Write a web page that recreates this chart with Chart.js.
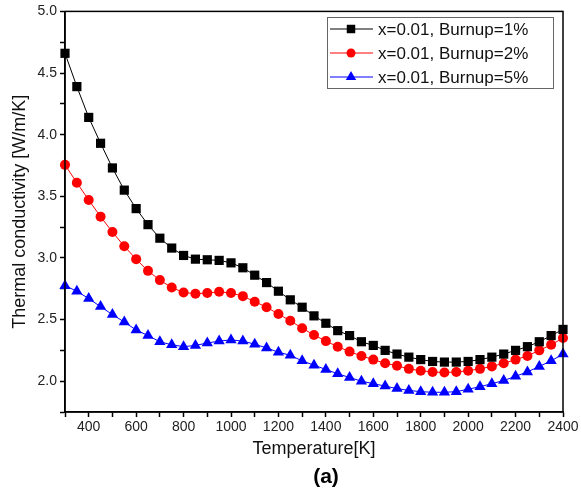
<!DOCTYPE html>
<html>
<head>
<meta charset="utf-8">
<script src="https://cdn.jsdelivr.net/npm/chart.js@4.4.1/dist/chart.umd.min.js"></script>
<style>
  html, body { margin: 0; padding: 0; background: #fff; }
  #wrap { width: 581px; height: 492px; }
</style>
</head>
<body>
<div id="wrap"><canvas id="chart" width="581" height="492"></canvas></div>
<script>
// temperatures in K, one point every 50 K
const temps = [300, 350, 400, 450, 500, 550, 600, 650, 700, 750, 800, 850, 900, 950, 1000,
  1050, 1100, 1150, 1200, 1250, 1300, 1350, 1400, 1450, 1500, 1550, 1600, 1650, 1700, 1750,
  1800, 1850, 1900, 1950, 2000, 2050, 2100, 2150, 2200, 2250, 2300, 2350, 2400];

const burnup1 = [4.66, 4.39, 4.14, 3.93, 3.73, 3.55, 3.40, 3.27, 3.16, 3.08, 3.02, 2.99, 2.985, 2.98, 2.96,
  2.92, 2.86, 2.80, 2.73, 2.66, 2.60, 2.53, 2.47, 2.41, 2.37, 2.32, 2.29, 2.25, 2.22, 2.195,
  2.175, 2.16, 2.155, 2.155, 2.16, 2.175, 2.195, 2.22, 2.25, 2.28, 2.32, 2.37, 2.42];

const burnup2 = [3.755, 3.61, 3.47, 3.335, 3.21, 3.095, 2.99, 2.895, 2.82, 2.76, 2.72, 2.71, 2.715, 2.725, 2.715,
  2.69, 2.645, 2.60, 2.545, 2.49, 2.43, 2.375, 2.325, 2.28, 2.24, 2.205, 2.175, 2.145, 2.125, 2.10,
  2.085, 2.075, 2.07, 2.075, 2.085, 2.10, 2.12, 2.145, 2.175, 2.205, 2.25, 2.295, 2.35];

const burnup5 = [2.775, 2.73, 2.67, 2.605, 2.54, 2.48, 2.415, 2.37, 2.32, 2.295, 2.28, 2.29, 2.31, 2.325, 2.335,
  2.325, 2.30, 2.27, 2.235, 2.21, 2.165, 2.13, 2.095, 2.06, 2.03, 2.0, 1.98, 1.96, 1.94, 1.925,
  1.915, 1.91, 1.91, 1.915, 1.935, 1.955, 1.98, 2.005, 2.04, 2.075, 2.12, 2.165, 2.22];

const seriesLabels = ["x=0.01, Burnup=1%", "x=0.01, Burnup=2%", "x=0.01, Burnup=5%"];
const FONT = "'Liberation Sans', Arial, sans-serif";

const toPoints = (vals) => temps.map((t, i) => ({ x: t, y: vals[i] }));

// legend box drawn inside the plot, plus the closed frame round the plot
const frameAndLegend = {
  id: "frameAndLegend",
  afterDraw(chart) {
    const { ctx, chartArea } = chart;
    ctx.save();
    ctx.strokeStyle = "#000";
    ctx.lineWidth = 1.5;
    ctx.strokeRect(chartArea.left, chartArea.top, chartArea.right - chartArea.left, chartArea.bottom - chartArea.top);

    ctx.strokeStyle = "#666";
    ctx.lineWidth = 1;
    ctx.strokeRect(327.5, 17.5, 226, 71);

    chart.data.datasets.forEach((ds, i) => {
      const y = 29 + i * 24;
      ctx.strokeStyle = ds.borderColor;
      ctx.lineWidth = 1;
      ctx.beginPath();
      ctx.moveTo(330, y);
      ctx.lineTo(373, y);
      ctx.stroke();
      ctx.fillStyle = ds.pointBackgroundColor;
      Chart.helpers.drawPoint(ctx, { pointStyle: ds.pointStyle, radius: ds.pointRadius - 0.5, rotation: 0, borderWidth: 0 }, 351, y);
      ctx.fillStyle = "#111";
      ctx.font = "17px " + FONT;
      ctx.textBaseline = "middle";
      ctx.fillText(ds.label, 378, y + 1);
    });

    ctx.fillStyle = "#000";
    ctx.font = "bold 21px " + FONT;
    ctx.textAlign = "center";
    ctx.textBaseline = "middle";
    ctx.fillText("(a)", 326, 477);
    ctx.restore();
  },
};

new Chart(document.getElementById("chart"), {
  type: "line",
  data: {
    datasets: [
      {
        label: seriesLabels[0],
        data: toPoints(burnup1),
        borderColor: "#000000",
        pointBackgroundColor: "#000000",
        pointBorderColor: "#000000",
        pointStyle: "rect",
        pointRadius: 6.5,
      },
      {
        label: seriesLabels[1],
        data: toPoints(burnup2),
        borderColor: "#ff0000",
        pointBackgroundColor: "#ff0000",
        pointBorderColor: "#ff0000",
        pointStyle: "circle",
        pointRadius: 5,
      },
      {
        label: seriesLabels[2],
        data: toPoints(burnup5),
        borderColor: "#0000ff",
        pointBackgroundColor: "#0000ff",
        pointBorderColor: "#0000ff",
        pointStyle: "triangle",
        pointRadius: 6.5,
      },
    ],
  },
  options: {
    responsive: false,
    animation: false,
    clip: false,
    elements: {
      line: { borderWidth: 1, tension: 0 },
      point: { borderWidth: 0, hoverRadius: 6 },
    },
    layout: { padding: { top: 11, right: 18, left: 9, bottom: 32 } },
    plugins: {
      legend: { display: false },
      tooltip: { enabled: false },
    },
    scales: {
      x: {
        type: "linear",
        min: 300,
        max: 2400,
        afterFit: (s) => { s.height = 48; },
        border: { color: "#000", width: 1.5 },
        grid: { drawOnChartArea: false, tickLength: 5, color: "#000", tickWidth: 1.5 },
        ticks: {
          stepSize: 100,
          autoSkip: false,
          maxRotation: 0,
          padding: 2,
          color: "#222",
          font: { family: FONT, size: 14 },
          callback: (v) => (v % 200 === 0 ? String(v) : ""),
        },
        title: {
          display: true,
          text: "Temperature[K]",
          color: "#111",
          font: { family: FONT, size: 18 },
          padding: { top: 0, bottom: 0 },
        },
      },
      y: {
        min: 1.75,
        max: 5.0,
        afterFit: (s) => { s.width = 56; },
        border: { color: "#000", width: 1.5 },
        grid: { drawOnChartArea: false, tickLength: 5, color: "#000", tickWidth: 1.5 },
        ticks: {
          stepSize: 0.25,
          autoSkip: false,
          padding: 3,
          color: "#222",
          font: { family: FONT, size: 14 },
          callback: (v) => (Math.abs(v * 2 - Math.round(v * 2)) < 1e-6 ? v.toFixed(1) : ""),
        },
        title: {
          display: true,
          text: "Thermal conductivity [W/m/K]",
          color: "#111",
          font: { family: FONT, size: 18 },
          padding: { top: 0, bottom: 2 },
        },
      },
    },
  },
  plugins: [frameAndLegend],
});
</script>
</body>
</html>
